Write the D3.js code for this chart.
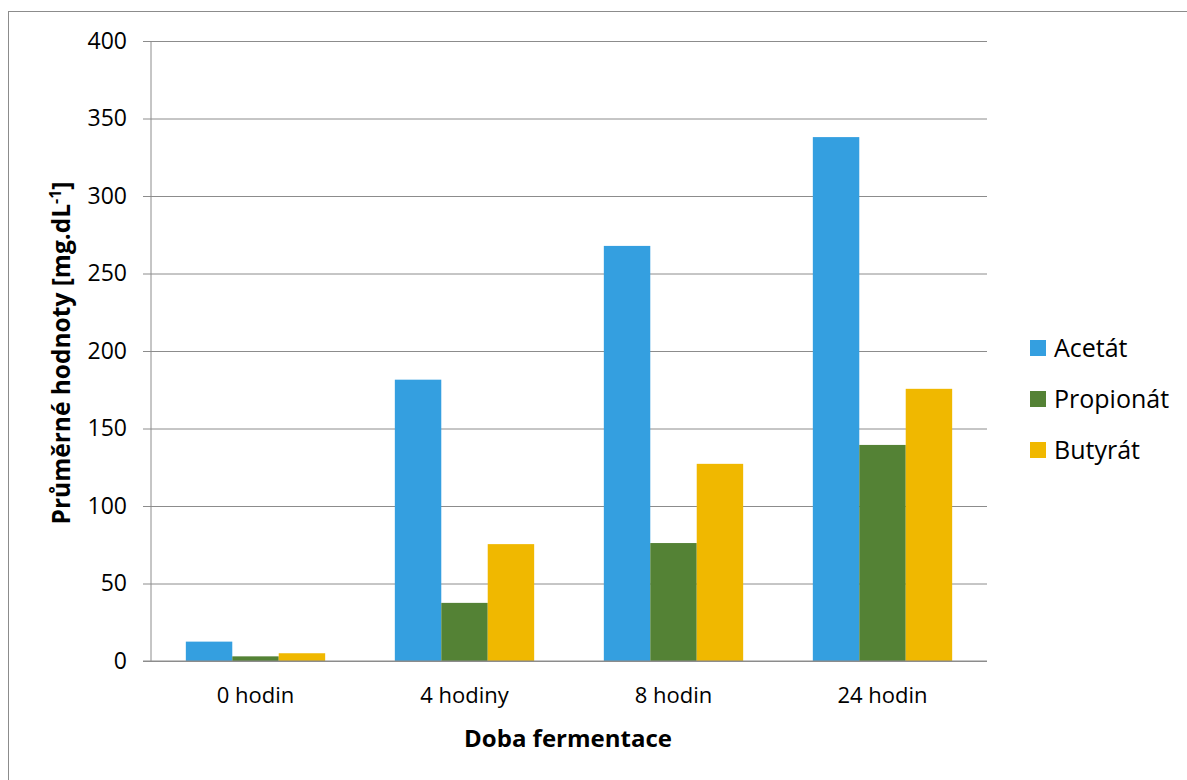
<!DOCTYPE html>
<html>
<head>
<meta charset="utf-8">
<script src="https://cdn.jsdelivr.net/npm/d3@7"></script>
<style>
  html, body { margin: 0; padding: 0; background: #fff; }
  svg { display: block; font-family: "Open Sans", Lato, sans-serif; }
</style>
</head>
<body>
<svg id="chart" width="1187" height="780"></svg>
<script>
// Fermentation time points
const categories = ["0 hodin", "4 hodiny", "8 hodin", "24 hodin"];
// Mean concentrations [mg.dL-1]
const acetat = [12.5, 181.5, 267.8, 338.0];
const propionat = [3, 37.5, 76.1, 139.4];
const butyrat = [5, 75.4, 127.2, 175.6];
const seriesNames = ["Acetát", "Propionát", "Butyrát"];
const seriesColors = ["#349fe0", "#548235", "#f0b800"];
const yTicks = [0, 50, 100, 150, 200, 250, 300, 350, 400];

const series = [acetat, propionat, butyrat];
const FONT = "'Open Sans', Lato, sans-serif";

const svg = d3.select("#chart");
const margin = { left: 151, right: 200, top: 41, bottom: 119 };
const W = 1187, H = 780;
const plotW = W - margin.left - margin.right;
const plotH = H - margin.top - margin.bottom;

// outer chart frame
svg.append("rect")
  .attr("x", 8.5).attr("y", 11.5)
  .attr("width", 1200).attr("height", 800)
  .attr("fill", "none").attr("stroke", "#8c8c8c").attr("stroke-width", 1);

const x0 = d3.scaleBand().domain(categories)
  .range([0, plotW]).paddingInner(1 / 3).paddingOuter(1 / 6);
const x1 = d3.scaleBand().domain(seriesNames).range([0, x0.bandwidth()]);
const y = d3.scaleLinear().domain([0, 400]).range([plotH, 0]);

const g = svg.append("g").attr("transform", `translate(${margin.left},${margin.top})`);

// horizontal gridlines with left tick stubs
const yAxis = d3.axisLeft(y).tickValues(yTicks).tickSize(-plotW - 8).tickPadding(16)
  .tickFormat(d3.format("d"));
const yg = g.append("g").call(yAxis);
yg.select(".domain").remove();
yg.selectAll(".tick line")
  .attr("x1", -8).attr("x2", plotW)
  .attr("stroke", "#8c8c8c").attr("stroke-width", 1);
yg.selectAll(".tick text")
  .attr("x", -24)
  .attr("font-size", 23).attr("fill", "#000")
  .style("font-family", FONT);

// bars
const groups = g.selectAll(".cat").data(categories).enter().append("g")
  .attr("transform", d => `translate(${x0(d)},0)`);
groups.selectAll("rect")
  .data((c, i) => seriesNames.map((s, k) => ({ s, k, v: series[k][i] })))
  .enter().append("rect")
  .attr("x", d => x1(d.s))
  .attr("width", x1.bandwidth())
  .attr("y", d => y(d.v))
  .attr("height", d => plotH - y(d.v))
  .attr("fill", d => seriesColors[d.k]);

// y axis line and baseline
g.append("line").attr("x1", 0).attr("x2", 0).attr("y1", 0).attr("y2", plotH)
  .attr("stroke", "#8c8c8c");
g.append("line").attr("x1", -8).attr("x2", plotW).attr("y1", plotH).attr("y2", plotH)
  .attr("stroke", "#8c8c8c");

// x category labels
const xAxis = d3.axisBottom(x0).tickSize(0).tickPadding(0);
const xg = g.append("g").attr("transform", `translate(0,${plotH})`).call(xAxis);
xg.select(".domain").remove();
xg.selectAll(".tick text")
  .attr("y", 42).attr("dy", 0)
  .attr("font-size", 22).attr("fill", "#000")
  .style("font-family", FONT);

// axis titles
svg.append("text")
  .attr("x", 568).attr("y", 747)
  .attr("text-anchor", "middle")
  .attr("font-size", 24).attr("font-weight", "bold")
  .text("Doba fermentace");

const yt = svg.append("text")
  .attr("transform", `translate(70,353) rotate(-90)`)
  .attr("text-anchor", "middle")
  .attr("font-size", 24.5).attr("font-weight", "bold");
yt.append("tspan").text("Průměrné hodnoty [mg.dL");
yt.append("tspan").attr("dy", -9).attr("font-size", 16).text("-1");
yt.append("tspan").attr("dy", 9).text("]");

// legend
const legend = svg.append("g").attr("transform", "translate(1030,0)");
const legendY = [348, 399, 450];
seriesNames.forEach((s, k) => {
  legend.append("rect").attr("x", 0).attr("y", legendY[k] - 8)
    .attr("width", 16).attr("height", 16).attr("fill", seriesColors[k]);
  legend.append("text").attr("x", 24).attr("y", legendY[k] + 9)
    .attr("font-size", 25).attr("fill", "#000").text(s);
});
</script>
</body>
</html>
